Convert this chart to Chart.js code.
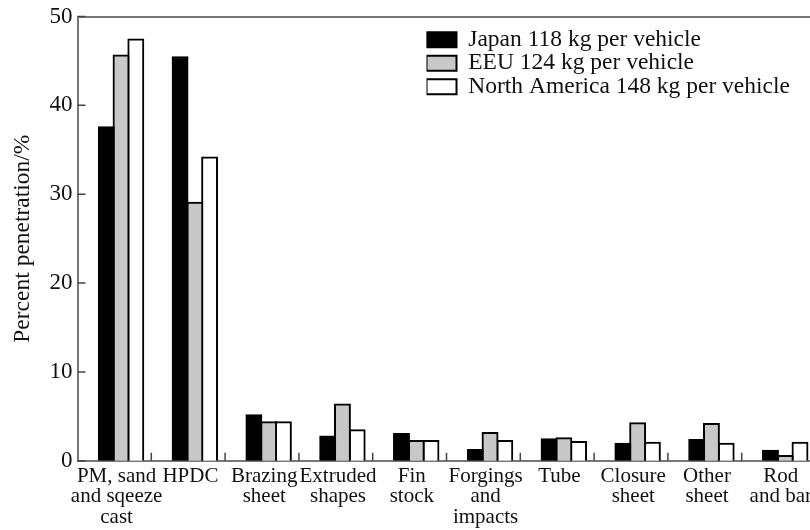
<!DOCTYPE html>
<html><head><meta charset="utf-8">
<script src="https://cdn.jsdelivr.net/npm/chart.js@4.4.1/dist/chart.umd.min.js"></script>
<style>html,body{margin:0;padding:0;background:#fff;overflow:hidden;} #wrap{width:830px;height:540px;position:relative;}</style>
</head><body><div id="wrap"><canvas id="c"></canvas></div>
<script>
const categories = [
  ["PM, sand","and sqeeze","cast"], ["HPDC"], ["Brazing","sheet"], ["Extruded","shapes"],
  ["Fin","stock"], ["Forgings","and","impacts"], ["Tube"], ["Closure","sheet"],
  ["Other","sheet"], ["Rod","and bar"]
];
const japan        = [37.6, 45.5, 5.2, 2.8, 3.1, 1.3, 2.5, 2.0, 2.4, 1.2];
const eeu          = [45.7, 29.1, 4.4, 6.4, 2.3, 3.2, 2.6, 4.3, 4.2, 0.6];
const northAmerica = [47.5, 34.2, 4.4, 3.5, 2.3, 2.3, 2.2, 2.1, 2.0, 2.1];
const seriesNames  = ["Japan 118 kg per vehicle", "EEU 124 kg per vehicle", "North America 148 kg per vehicle"];
const yTicks       = [0, 10, 20, 30, 40, 50];
const yTitle       = "Percent penetration/%";

const FONT = "'Liberation Serif', 'Times New Roman', serif";
Chart.defaults.font.family = FONT;
Chart.defaults.color = '#1a1a1a';

const GROUP_POS = 0.59;   // bar group centre inside each category slot
const LABEL_POS = 0.53;   // label centre inside each category slot

function toPoints(arr) { return arr.map((v, i) => ({ x: i + GROUP_POS, y: v })); }

const innerTicks = {
  id: 'innerTicks',
  afterDatasetsDraw(chart) {
    const { ctx, chartArea: a, scales: { x, y } } = chart;
    ctx.save();
    ctx.strokeStyle = '#444';
    ctx.lineWidth = 1.5;
    ctx.beginPath();
    yTicks.forEach(v => { const py = y.getPixelForValue(v); ctx.moveTo(a.left, py); ctx.lineTo(a.left + 8, py); });
    for (let i = 1; i < categories.length; i++) {
      const px = x.getPixelForValue(i);
      ctx.moveTo(px, a.bottom); ctx.lineTo(px, a.bottom - 8);
    }
    ctx.stroke();
    ctx.restore();
  }
};

const legendPlace = {
  id: 'legendPlace',
  afterLayout(chart) {
    const lg = chart.legend, a = chart.chartArea;
    const w = lg.width, h = lg.height;
    lg.left = a.left + 349; lg.top = a.top + 11.5;
    lg.right = lg.left + w; lg.bottom = lg.top + h;
  }
};

const common = { borderColor: '#000', borderWidth: 2, barThickness: 'flex', categoryPercentage: 0.6, barPercentage: 1.1 };

new Chart(document.getElementById('c'), {
  type: 'bar',
  data: {
    datasets: [
      Object.assign({ label: seriesNames[0], data: toPoints(japan), backgroundColor: '#000' }, common),
      Object.assign({ label: seriesNames[1], data: toPoints(eeu), backgroundColor: '#c8c8c8' }, common),
      Object.assign({ label: seriesNames[2], data: toPoints(northAmerica), backgroundColor: '#fff' }, common)
    ]
  },
  options: {
    responsive: true,
    maintainAspectRatio: false,
    animation: false,
    events: [],
    layout: { padding: { left: 11, top: 11, right: 14.5, bottom: 7.5 } },
    plugins: {
      tooltip: { enabled: false },
      legend: {
        position: 'chartArea',
        align: 'start',
        labels: { font: { size: 23.5 }, color: '#111', boxWidth: 30, boxHeight: 15, padding: 0 }
      }
    },
    scales: {
      x: {
        type: 'linear', min: 0, max: categories.length, offset: false,
        grid: { display: false, drawTicks: false, offset: false },
        border: { display: true, color: '#777', width: 2 },
        afterBuildTicks(axis) { axis.ticks = categories.map((c, i) => ({ value: i + LABEL_POS })); },
        ticks: {
          autoSkip: false, maxRotation: 0, minRotation: 0, padding: 5,
          font: { size: 21, lineHeight: 0.98 }, color: '#111',
          callback: (v, i) => categories[i]
        }
      },
      x2: {
        type: 'linear', position: 'top', min: 0, max: categories.length,
        grid: { display: false, drawTicks: false },
        ticks: { display: false },
        border: { display: true, color: '#777', width: 2 }
      },
      y: {
        min: 0, max: 50,
        grid: { display: false, drawTicks: false },
        border: { display: true, color: '#777', width: 2 },
        afterBuildTicks(axis) { axis.ticks = yTicks.map(v => ({ value: v })); },
        ticks: { padding: 5, font: { size: 23, lineHeight: 1 }, color: '#111' },
        title: { display: true, text: yTitle, font: { size: 23.5, lineHeight: 1 }, color: '#111', padding: { top: 0, bottom: 10 } }
      }
    }
  },
  plugins: [innerTicks, legendPlace]
});
</script>
</body></html>
